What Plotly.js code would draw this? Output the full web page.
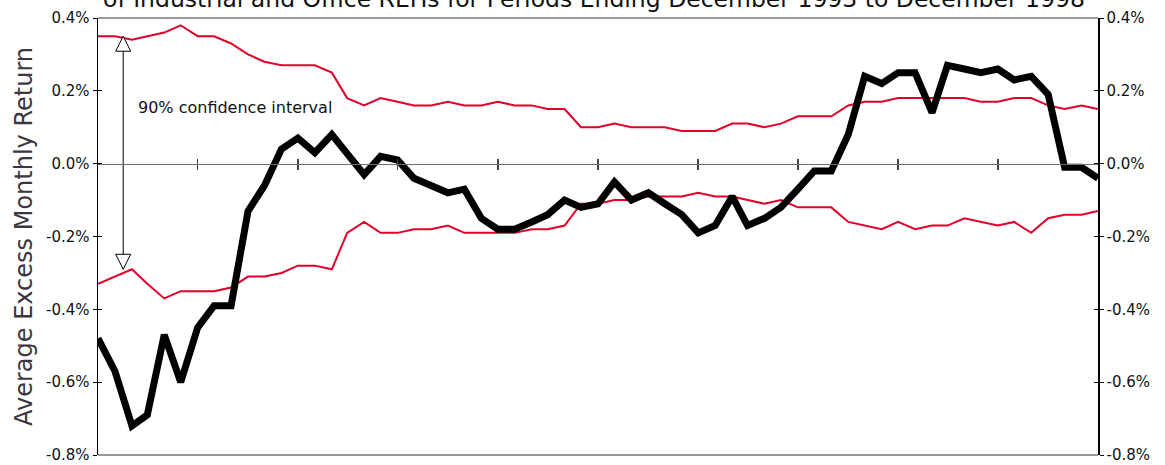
<!DOCTYPE html>
<html>
<head>
<meta charset="utf-8">
<script src="https://cdn.plot.ly/plotly-3.0.1.min.js"></script>
<style>
  html, body { margin: 0; padding: 0; background: #fff; }
  #chart { width: 1165px; height: 465px; }
</style>
</head>
<body>
<div id="chart"></div>
<script>
/* monthly periods ending Dec 1993 .. Dec 1998 */
const months = [];
for (let y = 1993; y <= 1998; y++) {
  for (let m = 1; m <= 12; m++) {
    if (y === 1993 && m < 12) continue;
    months.push(`${y}-${String(m).padStart(2, "0")}-01`);
  }
}

const avgReturn = [
  -0.48, -0.57, -0.72, -0.69, -0.47, -0.60, -0.45, -0.39, -0.39, -0.13,
  -0.06, 0.04, 0.07, 0.03, 0.08, 0.025, -0.03, 0.02, 0.01, -0.04,
  -0.06, -0.08, -0.07, -0.15, -0.18, -0.18, -0.16, -0.14, -0.10, -0.12,
  -0.11, -0.05, -0.10, -0.08, -0.11, -0.14, -0.19, -0.17, -0.09, -0.17,
  -0.15, -0.12, -0.07, -0.02, -0.02, 0.08, 0.24, 0.22, 0.25, 0.25,
  0.14, 0.27, 0.26, 0.25, 0.26, 0.23, 0.24, 0.19, -0.01, -0.01,
  -0.04,
];

const upperBound = [
  0.35, 0.35, 0.34, 0.35, 0.36, 0.38, 0.35, 0.35, 0.33, 0.30,
  0.28, 0.27, 0.27, 0.27, 0.25, 0.18, 0.16, 0.18, 0.17, 0.16,
  0.16, 0.17, 0.16, 0.16, 0.17, 0.16, 0.16, 0.15, 0.15, 0.10,
  0.10, 0.11, 0.10, 0.10, 0.10, 0.09, 0.09, 0.09, 0.11, 0.11,
  0.10, 0.11, 0.13, 0.13, 0.13, 0.16, 0.17, 0.17, 0.18, 0.18,
  0.18, 0.18, 0.18, 0.17, 0.17, 0.18, 0.18, 0.16, 0.15, 0.16,
  0.15,
];

const lowerBound = [
  -0.33, -0.31, -0.29, -0.33, -0.37, -0.35, -0.35, -0.35, -0.34, -0.31,
  -0.31, -0.30, -0.28, -0.28, -0.29, -0.19, -0.16, -0.19, -0.19, -0.18,
  -0.18, -0.17, -0.19, -0.19, -0.19, -0.19, -0.18, -0.18, -0.17, -0.11,
  -0.11, -0.10, -0.10, -0.09, -0.09, -0.09, -0.08, -0.09, -0.09, -0.10,
  -0.11, -0.10, -0.12, -0.12, -0.12, -0.16, -0.17, -0.18, -0.16, -0.18,
  -0.17, -0.17, -0.15, -0.16, -0.17, -0.16, -0.19, -0.15, -0.14, -0.14,
  -0.13,
];

const yTickVals = [-0.8, -0.6, -0.4, -0.2, 0, 0.2, 0.4];
const yTickText = ["-0.8%", "-0.6%", "-0.4%", "-0.2%", "0.0%", "0.2%", "0.4%"];

const halfYearTicks = [
  "1994-06-01", "1994-12-01", "1995-06-01", "1995-12-01", "1996-06-01",
  "1996-12-01", "1997-06-01", "1997-12-01", "1998-06-01",
];

/* confidence interval marker */
const ciArrowX = ["1994-01-16", "1994-01-16"];
const ciArrowY = [0.35, -0.29];

const red = "#e1002a";
const font = "DejaVu Sans, Verdana, sans-serif";

// each trace sits on its own overlaid axis so every axis gets drawn
const data = [
  {
    x: months, y: upperBound, xaxis: "x", yaxis: "y",
    type: "scatter", mode: "lines",
    line: { color: red, width: 2 }, hoverinfo: "skip",
  },
  {
    x: months, y: lowerBound, xaxis: "x", yaxis: "y2",
    type: "scatter", mode: "lines",
    line: { color: red, width: 2 }, hoverinfo: "skip",
  },
  {
    x: ciArrowX, y: ciArrowY, xaxis: "x2", yaxis: "y3",
    type: "scatter", mode: "lines+markers",
    line: { color: "#000", width: 1 },
    marker: {
      symbol: ["arrow-up", "arrow-down"], size: 15, color: "#fff",
      line: { color: "#000", width: 1 },
    },
    hoverinfo: "skip",
  },
  {
    x: months, y: avgReturn, xaxis: "x", yaxis: "y4",
    type: "scatter", mode: "lines",
    line: { color: "#000", width: 7 },
  },
];

const xRange = ["1993-12-01", "1998-12-01"];
const yRange = [-0.8, 0.4];
const zeroPos = 0.8 / 1.2;

const yBase = {
  range: yRange, tickvals: yTickVals, ticktext: yTickText,
  ticklen: 4, tickcolor: "#000", tickwidth: 1,
  showgrid: false, zeroline: false,
};

const layout = {
  width: 1165,
  height: 465,
  margin: { l: 98, r: 67, t: 18, b: 10 },
  showlegend: false,
  paper_bgcolor: "#fff",
  plot_bgcolor: "#fff",
  font: { family: font, size: 15, color: "#111" },
  title: {
    text: "of Industrial and Office REITs for Periods Ending December 1993 to December 1998",
    font: { family: font, size: 23.5, color: "#111" },
    xref: "paper", x: 0.496, xanchor: "center",
    yref: "container", y: 0.985, yanchor: "bottom",
  },
  xaxis: {
    type: "date", range: xRange,
    anchor: "free", position: zeroPos,
    showline: true, linecolor: "#6e6e6e", linewidth: 1.5,
    showgrid: false, zeroline: false,
    tickvals: halfYearTicks, ticks: "outside", ticklen: 5,
    tickcolor: "#444", tickwidth: 1.5,
    showticklabels: false,
  },
  xaxis2: {
    type: "date", range: xRange,
    overlaying: "x", side: "top",
    anchor: "free", position: zeroPos,
    showline: false, showgrid: false, zeroline: false,
    tickvals: halfYearTicks, ticks: "outside", ticklen: 5,
    tickcolor: "#444", tickwidth: 1.5,
    showticklabels: false,
  },
  yaxis: {
    ...yBase,
    anchor: "x", side: "left",
    showline: true, linecolor: "#000", linewidth: 1.5,
    ticks: "outside",
    title: {
      text: "Average Excess Monthly Return",
      font: { family: font, size: 24, color: "#3d3640" },
      standoff: 6,
    },
  },
  yaxis2: {
    ...yBase,
    overlaying: "y", anchor: "x", side: "right",
    showline: true, linecolor: "#000", linewidth: 1.5,
    ticks: "outside",
  },
  yaxis3: {
    ...yBase,
    overlaying: "y", anchor: "x2", side: "left",
    ticks: "inside", showticklabels: false, showline: false,
  },
  yaxis4: {
    ...yBase,
    overlaying: "y", anchor: "x", side: "right",
    ticks: "inside", showticklabels: false, showline: false,
  },
  shapes: [
    { type: "line", xref: "paper", yref: "paper", x0: 0, x1: 1, y0: 1, y1: 1,
      line: { color: "#777", width: 1.5 } },
    { type: "line", xref: "paper", yref: "paper", x0: 0, x1: 1, y0: 0, y1: 0,
      line: { color: "#777", width: 1.5 } },
  ],
  annotations: [
    {
      text: "90% confidence interval",
      xref: "x", yref: "y",
      x: "1994-02-08", y: 0.155, xanchor: "left", yanchor: "middle",
      showarrow: false,
      font: { family: font, size: 16, color: "#111" },
    },
  ],
};

Plotly.newPlot("chart", data, layout, { staticPlot: true });
</script>
</body>
</html>
